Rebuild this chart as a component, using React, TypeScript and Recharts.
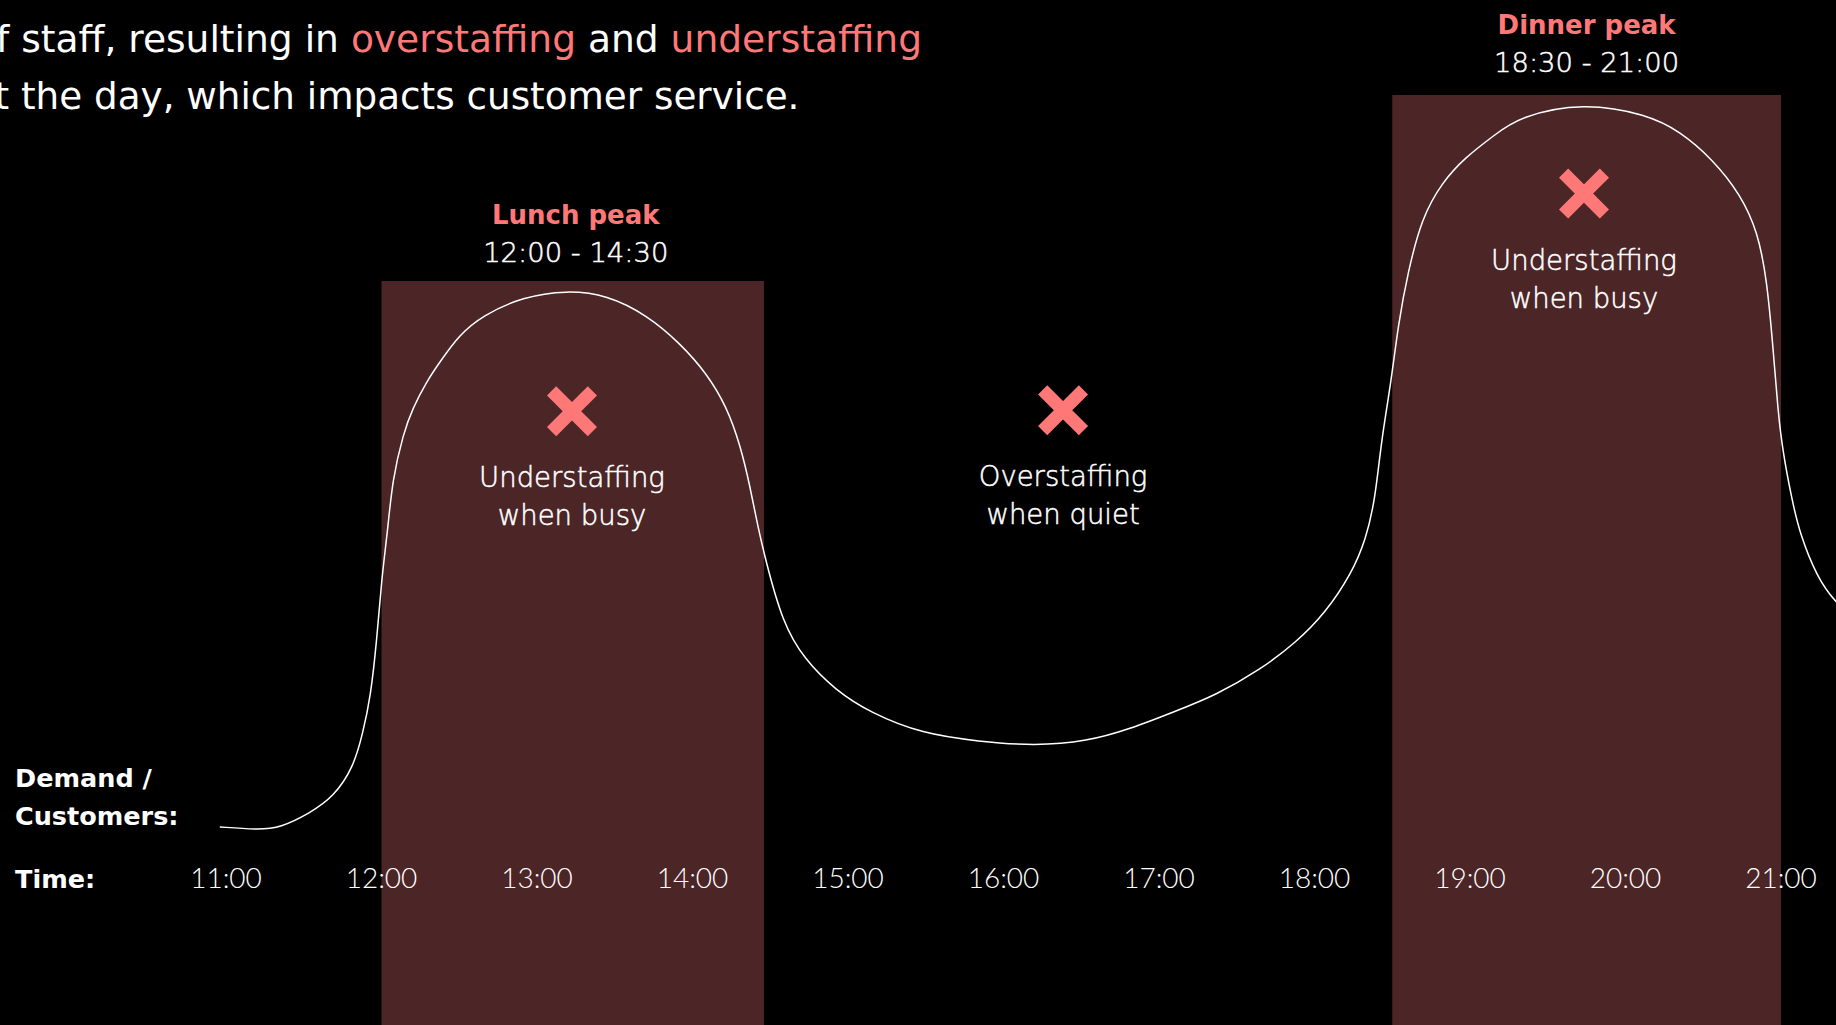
import React from 'react';
import { LineChart, Line, XAxis, YAxis, ReferenceArea, ReferenceDot } from 'recharts';

// ---- data ----
const hours = [10.96, 11.2, 11.35, 11.54, 11.69, 11.82, 11.88, 11.93, 11.97, 12.0, 12.04, 12.07, 12.14, 12.2, 12.29, 12.38, 12.5, 12.65, 12.91, 13.19, 13.45, 13.71, 13.92, 14.09, 14.22, 14.31, 14.37, 14.42, 14.47, 14.58, 14.72, 14.92, 15.14, 15.48, 15.84, 16.2, 16.54, 16.81, 17.1, 17.37, 17.65, 17.88, 18.07, 18.24, 18.33, 18.39, 18.43, 18.49, 18.54, 18.6, 18.69, 18.82, 18.97, 19.15, 19.32, 19.73, 20.14, 20.35, 20.56, 20.74, 20.85, 20.91, 20.95, 20.98, 21.01, 21.07, 21.12, 21.23, 21.35, 21.5];
const demand = [21.3, 21.0, 21.2, 22.8, 24.5, 27.7, 31.4, 35.3, 41.4, 47.9, 53.2, 58.6, 63.6, 66.3, 69.2, 71.4, 74.2, 76.3, 78.3, 79.0, 78.5, 76.3, 73.3, 70.1, 66.5, 62.2, 57.9, 53.6, 50.0, 43.2, 39.3, 36.0, 33.6, 31.3, 30.5, 30.0, 30.5, 31.8, 33.7, 35.5, 38.2, 41.1, 44.3, 48.6, 52.2, 56.5, 62.9, 68.8, 75.5, 80.9, 86.8, 90.6, 93.3, 95.6, 97.7, 99.2, 97.9, 96.1, 93.1, 89.3, 85.3, 80.1, 72.6, 66.1, 61.8, 56.5, 52.9, 48.2, 45.4, 43.3];

const tickHours = [11, 12, 13, 14, 15, 16, 17, 18, 19, 20, 21];
const tickLabels = ['11:00', '12:00', '13:00', '14:00', '15:00', '16:00', '17:00', '18:00', '19:00', '20:00', '21:00'];

const peakNames = ['Lunch peak', 'Dinner peak'];
const peakRanges = ['12:00 - 14:30', '18:30 - 21:00'];
const peakStart = [12, 18.5];
const peakEnd = [14.46, 21];
const peakTop = [80, 100];

const issueHour = [13.225, 16.383, 19.733];
const issueLevel = [66.0, 66.1, 89.4];
const issueLine1 = ['Understaffing', 'Overstaffing', 'Understaffing'];
const issueLine2 = ['when busy', 'when quiet', 'when busy'];

const titleLine1 = ['f staff, resulting in ', 'overstaffing', ' and ', 'understaffing'];
const titleLine2 = 't the day, which impacts customer service.';

// ---- styles ----
const PINK = '#FF7878';
const BAND = '#4C2527';
const FONT = '"DejaVu Sans", sans-serif';

const data = hours.map((h, i) => ({ hour: h, demand: demand[i] }));

const TimeTick = (props: any) => {
  const { x, payload } = props;
  const idx = tickHours.indexOf(payload.value);
  return (
    <text x={x} y={888} textAnchor="middle" fill="#fff" fontFamily='Lato, sans-serif' fontWeight={300} fontSize={28}>
      {tickLabels[idx]}
    </text>
  );
};

const makePeakLabel = (i: number, gap: number, shift: number) => (props: any) => {
  const vb = props.viewBox || {};
  const cx = vb.x + vb.width / 2 + shift;
  const top = vb.y;
  return (
    <g>
      <text x={cx} y={top - gap - 38} textAnchor="middle" fill={PINK} fontFamily={FONT} fontWeight={700} fontSize={26}>
        {peakNames[i]}
      </text>
      <text x={cx} y={top - gap} textAnchor="middle" fill="#fff" stroke="#fff" strokeWidth={0.5} fontFamily={FONT} fontWeight={200} fontSize={27.4}>
        {peakRanges[i]}
      </text>
    </g>
  );
};

const makeIssueShape = (i: number) => (props: any) => {
  const { cx, cy } = props;
  const a = 20.4;
  return (
    <g>
      <line x1={cx - a} y1={cy - a} x2={cx + a} y2={cy + a} stroke={PINK} strokeWidth={13} />
      <line x1={cx - a} y1={cy + a} x2={cx + a} y2={cy - a} stroke={PINK} strokeWidth={13} />
      <text x={cx} y={cy + 76} textAnchor="middle" fill="#fff" stroke="#fff" strokeWidth={0.5} fontFamily={FONT} fontWeight={200} fontSize={27.5}>
        {issueLine1[i]}
      </text>
      <text x={cx} y={cy + 114} textAnchor="middle" fill="#fff" stroke="#fff" strokeWidth={0.5} fontFamily={FONT} fontWeight={200} fontSize={27.5}>
        {issueLine2[i]}
      </text>
    </g>
  );
};

const peakGaps = [19, 23];
const peakShift = [3, 0];

export default function App() {
  return (
    <div style={{ position: 'absolute', left: 0, top: 0, width: 1836, height: 1025, overflow: 'hidden', background: '#000' }}>
      <LineChart
        width={1900}
        height={1026}
        data={data}
        margin={{ top: 95, right: 41.25, bottom: 0, left: 70.5 }}
      >
        <XAxis
          dataKey="hour"
          type="number"
          domain={[10, 21.5]}
          ticks={tickHours}
          tick={<TimeTick />}
          axisLine={false}
          tickLine={false}
          height={1}
          interval={0}
        />
        <YAxis type="number" domain={[0, 100]} hide width={0} />
        {peakStart.map((s, i) => (
          <ReferenceArea
            key={'band' + i}
            x1={s}
            x2={peakEnd[i]}
            y1={0}
            y2={peakTop[i]}
            fill={BAND}
            fillOpacity={1}
            stroke="none"
            ifOverflow="visible"
            label={makePeakLabel(i, peakGaps[i], peakShift[i])}
          />
        ))}
        <Line
          type="basis"
          dataKey="demand"
          stroke="#ffffff"
          strokeWidth={1.5}
          dot={false}
          activeDot={false}
          isAnimationActive={false}
        />
        {issueHour.map((h, i) => (
          <ReferenceDot key={'issue' + i} x={h} y={issueLevel[i]} r={1} shape={makeIssueShape(i)} ifOverflow="visible" />
        ))}
      </LineChart>
      <svg width={1836} height={1025} style={{ position: 'absolute', left: 0, top: 0, pointerEvents: 'none' }}>
        <text x={-4} y={52} fill="#fff" fontFamily={FONT} fontSize={37.6} style={{ whiteSpace: 'pre' }}>
          {titleLine1.map((t, i) => (
            <tspan key={i} fill={i % 2 === 1 ? PINK : '#fff'}>{t}</tspan>
          ))}
        </text>
        <text x={-5.5} y={109} fill="#fff" fontFamily={FONT} fontSize={37.3}>
          {titleLine2}
        </text>
        <text x={15} y={787} fill="#fff" fontFamily={FONT} fontWeight={700} fontSize={25.5}>Demand /</text>
        <text x={15} y={825} fill="#fff" fontFamily={FONT} fontWeight={700} fontSize={25.5}>Customers:</text>
        <text x={15} y={888} fill="#fff" fontFamily={FONT} fontWeight={700} fontSize={25.5}>Time:</text>
      </svg>
    </div>
  );
}
